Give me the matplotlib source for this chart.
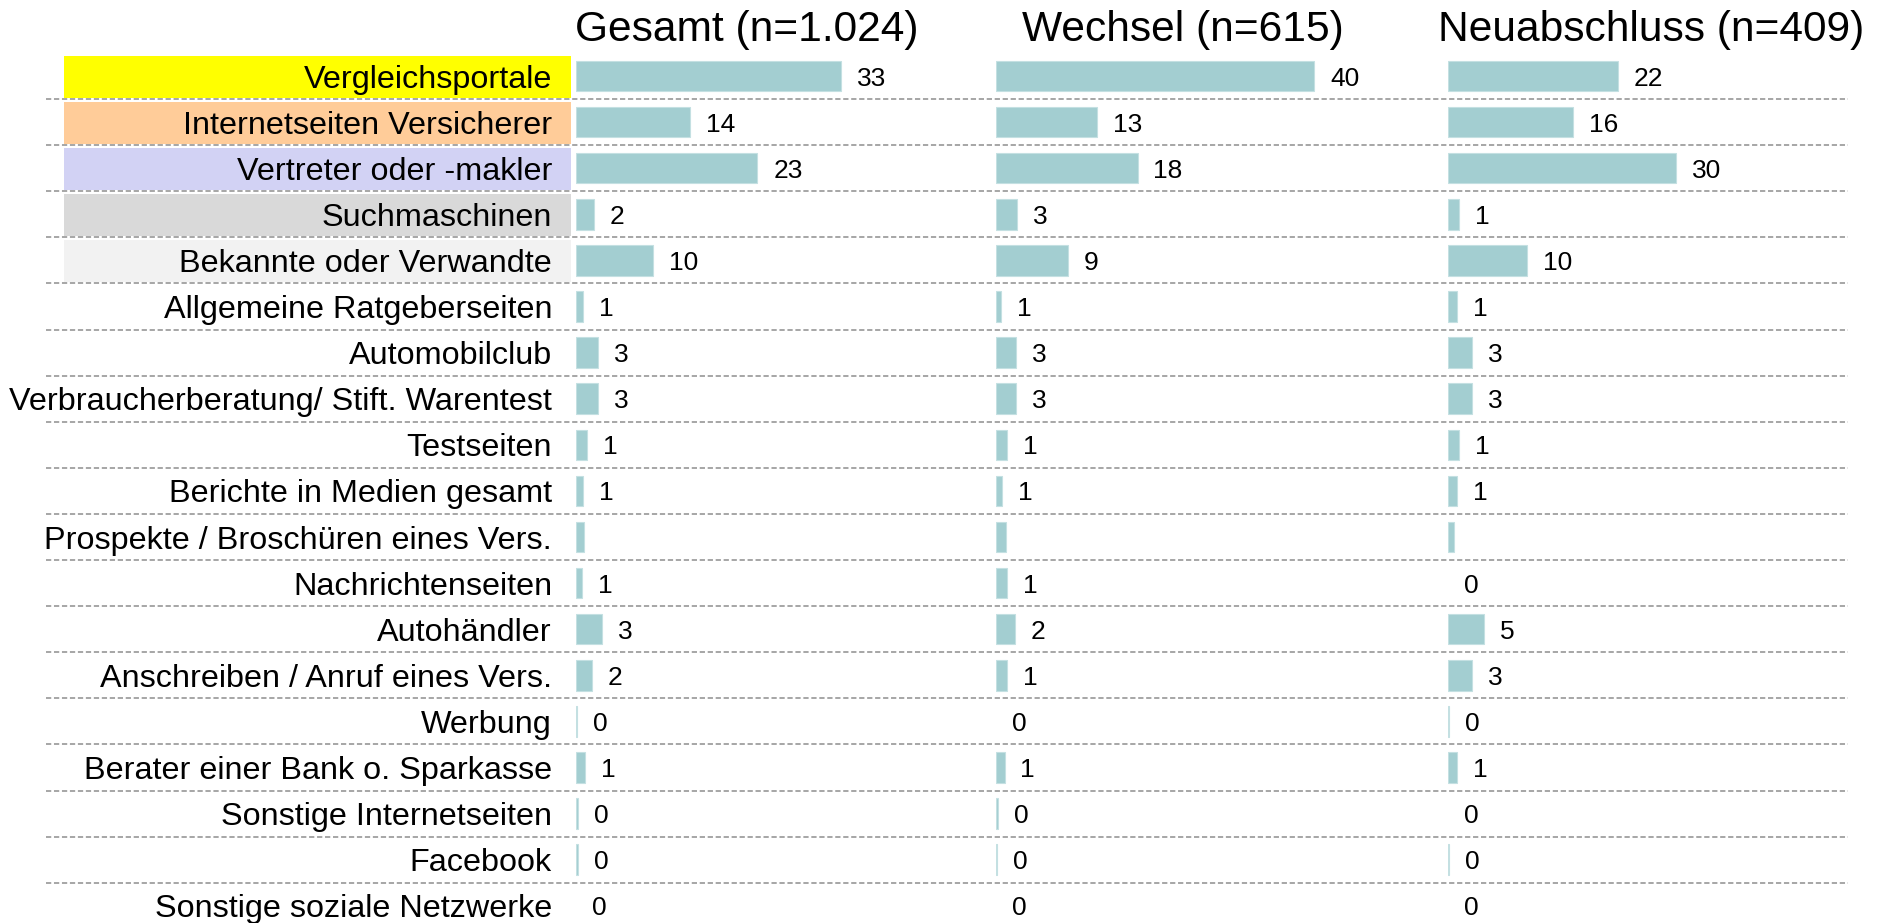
import matplotlib
matplotlib.use("Agg")
import matplotlib.pyplot as plt
from matplotlib.patches import Rectangle

plt.rcParams['font.family'] = ['Liberation Sans', 'DejaVu Sans']

categories = [
    "Vergleichsportale", "Internetseiten Versicherer", "Vertreter oder -makler",
    "Suchmaschinen", "Bekannte oder Verwandte", "Allgemeine Ratgeberseiten",
    "Automobilclub", "Verbraucherberatung/ Stift. Warentest", "Testseiten",
    "Berichte in Medien gesamt", "Prospekte / Broschüren eines Vers.",
    "Nachrichtenseiten", "Autohändler", "Anschreiben / Anruf eines Vers.",
    "Werbung", "Berater einer Bank o. Sparkasse", "Sonstige Internetseiten",
    "Facebook", "Sonstige soziale Netzwerke",
]

panel_titles = ["Gesamt (n=1.024)", "Wechsel (n=615)", "Neuabschluss (n=409)"]

gesamt = [33.0, 14.2, 22.6, 2.2, 9.6, 0.83, 2.8, 2.8, 1.4, 0.9, 0.98,
          0.75, 3.2, 2.0, 0.08, 1.1, 0.2, 0.2, 0.0]
wechsel = [40.0, 12.7, 17.8, 2.7, 9.0, 0.6, 2.55, 2.55, 1.38, 0.76, 1.2,
           1.37, 2.36, 1.37, 0.0, 1.07, 0.3, 0.15, 0.0]
neuabschluss = [22.2, 16.3, 29.8, 1.44, 10.3, 1.22, 3.18, 3.18, 1.44, 1.18, 0.72,
                0.0, 4.68, 3.16, 0.15, 1.18, 0.0, 0.15, 0.0]

gesamt_labels = ["33", "14", "23", "2", "10", "1", "3", "3", "1", "1", "",
                 "1", "3", "2", "0", "1", "0", "0", "0"]
wechsel_labels = ["40", "13", "18", "3", "9", "1", "3", "3", "1", "1", "",
                  "1", "2", "1", "0", "1", "0", "0", "0"]
neuabschluss_labels = ["22", "16", "30", "1", "10", "1", "3", "3", "1", "1", "",
                       "0", "5", "3", "0", "1", "0", "0", "0"]

highlight_colors = ["#FFFF00", "#FFCC99", "#D2D2F4", "#D9D9D9", "#F2F2F2"]

BAR_COLOR = "#A3CED1"
W, H = 1890, 923
fig = plt.figure(figsize=(W / 100, H / 100), dpi=100)

n = len(categories)
row0 = 76.0
pitch = 46.1
y_top = row0 - 0.5 * pitch
y_bot = row0 + (n - 0.5) * pitch


def fig_rect(x0, width):
    return [x0 / W, 1 - y_bot / H, width / W, (y_bot - y_top) / H]


# background axes: labels, highlight boxes, dashed separators (x in pixels)
bg = fig.add_axes(fig_rect(0, W))
bg.set_xlim(0, W)
bg.set_ylim(n - 0.5, -0.5)
bg.axis("off")
ys = list(range(n))
for i, c in enumerate(highlight_colors):
    bg.add_patch(Rectangle((64, i - 0.44), 507, 0.91, facecolor=c,
                           edgecolor="none", zorder=1))
bg.hlines([y + 0.5 for y in ys[:-1]], 46, 1848, colors="#A6A6A6",
          linewidth=1.4, linestyles=(0, (2.7, 1.4)), zorder=2)
for y, cat in zip(ys, categories):
    bg.text(552, y, cat, ha="right", va="center_baseline", fontsize=23.3,
            color="black", zorder=3)

panels = [
    (576, 8.03, gesamt, gesamt_labels, 747),
    (996, 7.95, wechsel, wechsel_labels, 1182.5),
    (1448, 7.65, neuabschluss, neuabschluss_labels, 1651),
]
width_px = 400
for (x0, scale, vals, labs, tx), title in zip(panels, panel_titles):
    ax = fig.add_axes(fig_rect(x0, width_px))
    ax.set_xlim(0, width_px / scale)
    ax.set_ylim(n - 0.5, -0.5)
    ax.patch.set_alpha(0)
    ax.axis("off")
    edges = ["#C4E0E2" if v > 0 else "none" for v in vals]
    bars = ax.barh(ys, vals, height=0.66, color=BAR_COLOR,
                   edgecolor=edges, linewidth=0.8)
    texts = ax.bar_label(bars, labels=labs, padding=11.5, fontsize=19)
    for t in texts:
        t.set_va("center_baseline")
    fig.text(tx / W, 1 - 40.7 / H, title, ha="center", va="baseline",
             fontsize=30.6)

fig.savefig("out.png", dpi=100)
